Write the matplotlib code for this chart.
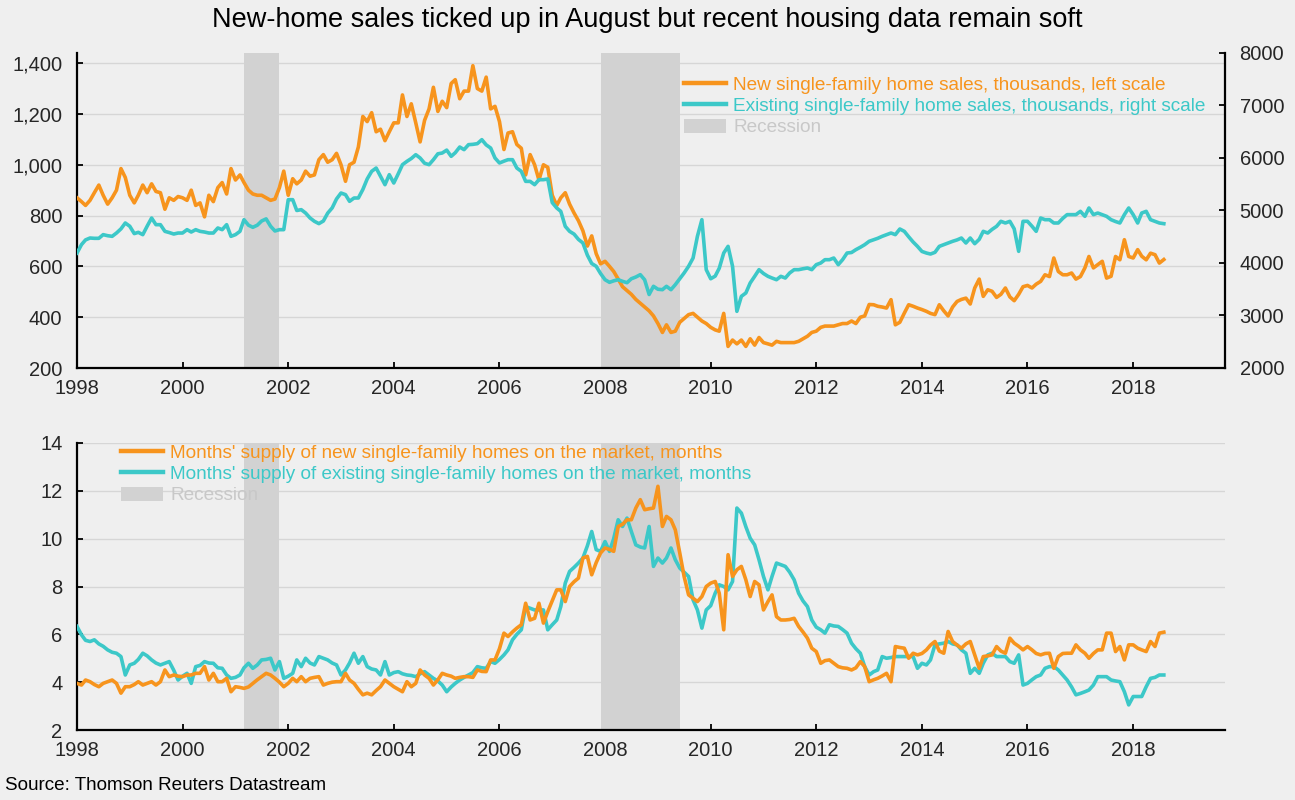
import numpy as np
import pandas as pd
import matplotlib
matplotlib.use("Agg")
import matplotlib.pyplot as plt
import matplotlib.dates as mdates
from matplotlib.lines import Line2D
from matplotlib.patches import Patch
from matplotlib.ticker import FuncFormatter, MultipleLocator

plt.rcParams['font.family'] = ['Liberation Sans', 'DejaVu Sans']

# ---------------- DATA (monthly, Jan 1998 - Aug 2018) ----------------
start_month = "1998-01-01"

new_sales = [
    870, 855, 840, 860, 890, 920, 880, 845, 870, 900, 985, 950,          # 1998
    880, 850, 880, 920, 890, 925, 895, 890, 825, 870, 860, 875,          # 1999
    870, 860, 900, 840, 850, 795, 880, 855, 910, 930, 885, 985,          # 2000
    940, 960, 930, 900, 885, 880, 880, 870, 860, 865, 910, 975,          # 2001
    880, 945, 925, 940, 975, 955, 960, 1020, 1040, 1010, 1020, 1045,     # 2002
    1000, 935, 1000, 1010, 1070, 1190, 1170, 1205, 1130, 1140, 1095, 1130,  # 2003
    1165, 1165, 1275, 1190, 1240, 1165, 1090, 1175, 1220, 1305, 1210, 1250,  # 2004
    1225, 1320, 1335, 1260, 1290, 1290, 1390, 1300, 1290, 1345, 1220, 1230,  # 2005
    1170, 1060, 1125, 1130, 1080, 1065, 960, 1040, 1000, 940, 1000, 990,     # 2006
    880, 840, 870, 890, 845, 810, 780, 740, 680, 720, 650, 610,          # 2007
    620, 600, 580, 550, 520, 505, 490, 470, 455, 440, 425, 405,          # 2008
    375, 340, 370, 340, 345, 380, 395, 410, 415, 400, 385, 375,          # 2009
    360, 350, 345, 415, 285, 310, 295, 310, 285, 315, 290, 320,          # 2010
    300, 295, 290, 305, 300, 300, 300, 300, 305, 315, 325, 340,          # 2011
    345, 360, 365, 365, 365, 370, 375, 375, 385, 375, 400, 405,          # 2012
    450, 449, 443, 440, 436, 469, 370, 380, 416, 449, 443, 436,          # 2013
    430, 423, 415, 410, 449, 425, 405, 440, 462, 470, 475, 452,          # 2014
    515, 550, 482, 508, 502, 478, 490, 515, 480, 465, 490, 520,          # 2015
    525, 515, 530, 541, 567, 560, 633, 580, 567, 567, 574, 550,          # 2016
    560, 594, 639, 594, 607, 620, 554, 561, 639, 626, 705, 639,          # 2017
    633, 666, 640, 626, 652, 646, 613, 627,                              # 2018
]

existing_sales = [
    4190, 4350, 4440, 4476, 4470, 4470, 4540, 4520, 4508, 4571, 4650, 4762,  # 1998
    4700, 4560, 4584, 4540, 4700, 4857, 4730, 4730, 4603, 4580, 4552, 4571,  # 1999
    4571, 4635, 4590, 4635, 4603, 4590, 4571, 4571, 4667, 4635, 4730, 4508,  # 2000
    4540, 4603, 4825, 4720, 4680, 4720, 4800, 4840, 4700, 4610, 4635, 4635,  # 2001
    5206, 5206, 5000, 5016, 4952, 4857, 4794, 4750, 4800, 4950, 5050, 5220,  # 2002
    5333, 5302, 5175, 5238, 5238, 5400, 5600, 5746, 5809, 5651, 5492, 5682,  # 2003
    5524, 5700, 5873, 5936, 5990, 6063, 6000, 5900, 5873, 5968, 6080, 6095,  # 2004
    6150, 6032, 6100, 6209, 6159, 6254, 6260, 6273, 6349, 6250, 6190, 6000,  # 2005
    5905, 5940, 5968, 5968, 5809, 5746, 5555, 5555, 5492, 5587, 5587, 5600,  # 2006
    5150, 5048, 4984, 4698, 4603, 4550, 4450, 4381, 4150, 3990, 3937, 3800,  # 2007
    3682, 3632, 3660, 3682, 3651, 3625, 3700, 3733, 3778, 3680, 3400, 3556,  # 2008
    3500, 3492, 3556, 3492, 3587, 3700, 3810, 3937, 4095, 4508, 4825, 3873,  # 2009
    3700, 3750, 3900, 4190, 4317, 3937, 3079, 3365, 3429, 3619, 3746, 3873,  # 2010
    3800, 3746, 3714, 3682, 3746, 3714, 3810, 3873, 3873, 3890, 3905, 3873,  # 2011
    3968, 4000, 4063, 4063, 4095, 3968, 4063, 4190, 4200, 4254, 4300, 4349,  # 2012
    4413, 4444, 4470, 4508, 4540, 4571, 4540, 4648, 4603, 4500, 4400, 4317,  # 2013
    4220, 4190, 4171, 4203, 4317, 4350, 4381, 4413, 4440, 4476, 4381, 4476,  # 2014
    4368, 4450, 4603, 4571, 4640, 4698, 4794, 4762, 4794, 4650, 4222, 4794,  # 2015
    4794, 4700, 4603, 4857, 4825, 4825, 4762, 4762, 4850, 4921, 4921, 4921,  # 2016
    4984, 4889, 5048, 4921, 4952, 4920, 4889, 4825, 4790, 4762, 4921, 5048,  # 2017
    4921, 4762, 4952, 4984, 4825, 4794, 4762, 4749,                          # 2018
]

supply_new = [
    3.95, 3.88, 4.09, 4.02, 3.90, 3.81, 3.95, 4.02, 4.09, 3.95, 3.54, 3.81,  # 1998
    3.81, 3.90, 4.02, 3.88, 3.95, 4.02, 3.88, 4.02, 4.51, 4.23, 4.30, 4.25,  # 1999
    4.23, 4.30, 4.30, 4.37, 4.37, 4.65, 4.09, 4.37, 4.02, 4.02, 4.16, 3.60,  # 2000
    3.81, 3.78, 3.74, 3.80, 3.95, 4.10, 4.23, 4.37, 4.30, 4.16, 4.00, 3.81,  # 2001
    3.95, 4.16, 4.02, 4.23, 4.02, 4.16, 4.20, 4.23, 3.88, 3.95, 4.00, 4.02,  # 2002
    4.02, 4.37, 4.09, 3.95, 3.70, 3.47, 3.54, 3.47, 3.65, 3.81, 4.09, 3.95,  # 2003
    3.81, 3.70, 3.60, 4.02, 3.81, 3.95, 4.51, 4.30, 4.16, 3.88, 4.10, 4.37,  # 2004
    4.30, 4.25, 4.16, 4.20, 4.23, 4.23, 4.20, 4.51, 4.45, 4.44, 4.93, 4.93,  # 2005
    5.40, 6.05, 5.91, 6.10, 6.26, 6.40, 7.30, 6.60, 6.67, 7.30, 6.47, 6.95,  # 2006
    7.40, 7.86, 7.86, 7.37, 8.00, 8.20, 8.35, 9.19, 9.26, 8.49, 9.00, 9.40,  # 2007
    9.61, 9.55, 9.47, 10.51, 10.60, 10.79, 10.79, 11.28, 11.63, 11.21, 11.25, 11.28,  # 2008
    12.19, 10.51, 10.93, 10.79, 10.37, 9.40, 8.42, 7.65, 7.51, 7.37, 7.58, 8.00,  # 2009
    8.14, 8.21, 7.72, 6.19, 9.33, 8.42, 8.70, 8.84, 8.28, 7.58, 8.21, 8.07,  # 2010
    7.02, 7.37, 7.65, 6.74, 6.60, 6.60, 6.62, 6.67, 6.33, 6.10, 5.84, 5.42,  # 2011
    5.28, 4.79, 4.90, 4.93, 4.79, 4.65, 4.60, 4.58, 4.51, 4.60, 4.86, 4.65,  # 2012
    4.02, 4.10, 4.16, 4.26, 4.37, 4.02, 5.49, 5.45, 5.42, 5.00, 5.21, 5.14,  # 2013
    5.20, 5.35, 5.55, 5.70, 5.30, 5.21, 6.12, 5.70, 5.55, 5.42, 5.60, 5.70,  # 2014
    5.14, 4.58, 5.07, 5.10, 5.14, 5.49, 5.30, 5.21, 5.84, 5.63, 5.50, 5.35,  # 2015
    5.49, 5.35, 5.20, 5.14, 5.20, 5.21, 4.58, 5.07, 5.20, 5.21, 5.21, 5.56,  # 2016
    5.35, 5.21, 5.00, 5.20, 5.35, 5.35, 6.05, 6.05, 5.28, 5.49, 4.93, 5.56,  # 2017
    5.56, 5.42, 5.35, 5.28, 5.70, 5.49, 6.05, 6.09,                          # 2018
]

supply_existing = [
    6.33, 5.98, 5.75, 5.70, 5.77, 5.60, 5.50, 5.35, 5.25, 5.21, 5.07, 4.30,  # 1998
    4.72, 4.79, 4.95, 5.21, 5.10, 4.93, 4.80, 4.72, 4.79, 4.86, 4.50, 4.09,  # 1999
    4.25, 4.37, 3.95, 4.65, 4.70, 4.86, 4.80, 4.79, 4.60, 4.58, 4.30, 4.16,  # 2000
    4.20, 4.30, 4.60, 4.79, 4.58, 4.72, 4.93, 4.95, 5.00, 4.51, 4.86, 4.16,  # 2001
    4.25, 4.37, 4.93, 4.65, 5.00, 4.80, 4.72, 5.07, 5.00, 4.93, 4.80, 4.72,  # 2002
    4.30, 4.51, 4.80, 5.21, 4.79, 5.07, 4.65, 4.55, 4.51, 4.30, 4.86, 4.30,  # 2003
    4.40, 4.44, 4.35, 4.30, 4.28, 4.23, 4.35, 4.44, 4.30, 4.16, 4.05, 3.88,  # 2004
    3.60, 3.80, 3.95, 4.09, 4.20, 4.30, 4.40, 4.65, 4.60, 4.58, 4.86, 4.79,  # 2005
    4.95, 5.14, 5.35, 5.77, 6.00, 6.19, 7.16, 7.09, 7.02, 7.02, 7.02, 6.19,  # 2006
    6.40, 6.60, 7.16, 8.14, 8.63, 8.80, 8.98, 9.19, 9.70, 10.30, 9.54, 9.47,  # 2007
    9.88, 9.47, 10.00, 10.79, 10.51, 10.86, 10.30, 9.74, 9.65, 9.61, 10.51, 8.84,  # 2008
    9.19, 8.98, 9.19, 9.61, 9.12, 8.77, 8.60, 8.42, 7.44, 7.02, 6.26, 7.02,  # 2009
    7.20, 7.72, 8.07, 8.00, 7.86, 8.21, 11.28, 11.07, 10.50, 10.02, 9.74, 9.12,  # 2010
    8.42, 7.86, 8.42, 8.98, 8.91, 8.84, 8.60, 8.28, 7.72, 7.40, 7.16, 6.60,  # 2011
    6.30, 6.19, 6.05, 6.40, 6.35, 6.33, 6.20, 6.05, 5.63, 5.40, 5.21, 4.65,  # 2012
    4.30, 4.44, 4.51, 5.07, 5.00, 5.03, 5.07, 5.07, 5.07, 5.07, 5.07, 4.58,  # 2013
    4.79, 4.72, 4.93, 5.56, 5.60, 5.63, 5.70, 5.60, 5.56, 5.35, 5.21, 4.37,  # 2014
    4.58, 4.37, 4.79, 5.14, 5.21, 5.07, 5.07, 5.07, 4.86, 4.79, 5.14, 3.88,  # 2015
    3.95, 4.10, 4.23, 4.30, 4.58, 4.65, 4.65, 4.51, 4.30, 4.09, 3.80, 3.47,  # 2016
    3.53, 3.60, 3.67, 3.88, 4.23, 4.23, 4.23, 4.09, 4.05, 4.02, 3.60, 3.05,  # 2017
    3.40, 3.40, 3.40, 3.81, 4.16, 4.20, 4.30, 4.30,                          # 2018
]

recessions = [("2001-03-01", "2001-11-01"), ("2007-12-01", "2009-06-01")]

title = "New-home sales ticked up in August but recent housing data remain soft"
label_new_sales = "New single-family home sales, thousands, left scale"
label_existing_sales = "Existing single-family home sales, thousands, right scale"
label_supply_new = "Months' supply of new single-family homes on the market, months"
label_supply_existing = "Months' supply of existing single-family homes on the market, months"
label_recession = "Recession"
source = "Source: Thomson Reuters Datastream"

# ---------------- STYLE ----------------
ORANGE = "#F7941D"
CYAN = "#3CC8C8"
REC = "#D2D2D2"
BG = "#EFEFEF"
GRID = "#D6D6D6"
TXT = "#262626"
LW = 2.6
TICK_FS = 14.5
LEG_FS = 13.7

dates = pd.date_range(start_month, periods=len(new_sales), freq="MS")

fig = plt.figure(figsize=(12.95, 8.0), dpi=100, facecolor=BG)
ax1 = fig.add_axes([77/1295, 1-368/800, (1225-77)/1295, (368-53)/800])
ax2 = fig.add_axes([77/1295, 1-730/800, (1225-77)/1295, (730-443)/800])

xmin = pd.Timestamp("1998-01-01")
xmax = pd.Timestamp("2019-09-28")


def style_axis(ax):
    ax.set_facecolor(BG)
    for s in ["top", "right"]:
        ax.spines[s].set_visible(False)
    for s in ["left", "bottom"]:
        ax.spines[s].set_linewidth(1.6)
        ax.spines[s].set_color("black")
    ax.tick_params(axis="both", direction="in", length=4.5, width=1.3,
                   labelsize=TICK_FS, labelcolor=TXT, color="black")
    ax.tick_params(axis="y", pad=10.5)
    ax.tick_params(axis="x", pad=8)
    ax.xaxis.set_major_locator(mdates.YearLocator(2))
    ax.xaxis.set_major_formatter(mdates.DateFormatter("%Y"))
    ax.set_xlim(xmin, xmax)
    ax.grid(axis="y", color=GRID, linewidth=1.0)
    ax.set_axisbelow(True)
    for a, b in recessions:
        ax.axvspan(pd.Timestamp(a), pd.Timestamp(b), color=REC, lw=0, zorder=1)


def add_legend(ax, labels, anchor):
    handles = [Line2D([], [], color=ORANGE, lw=3.2),
               Line2D([], [], color=CYAN, lw=3.2),
               Patch(facecolor=REC, edgecolor="none")]
    return ax.legend(handles, labels, loc="upper left", bbox_to_anchor=anchor,
                     frameon=False, fontsize=LEG_FS, handlelength=2.2, handleheight=0.75,
                     handletextpad=0.4, labelspacing=0.2, borderaxespad=0, borderpad=0,
                     labelcolor=[ORANGE, CYAN, "#C8C8C8"])


# ---- top panel ----
style_axis(ax1)
ax1.set_ylim(200, 1440)
ax1.set_yticks([200, 400, 600, 800, 1000, 1200, 1400])
ax1.yaxis.set_major_formatter(FuncFormatter(lambda v, p: f"{int(v):,}"))
ax1.plot(dates, new_sales, color=ORANGE, lw=LW, zorder=4, solid_joinstyle="round")

ax1r = ax1.twinx()
ax1r.set_ylim(2000, 8000)
ax1r.set_yticks([2000, 3000, 4000, 5000, 6000, 7000, 8000])
for s in ["top", "left", "bottom"]:
    ax1r.spines[s].set_visible(False)
ax1r.spines["right"].set_linewidth(1.6)
ax1r.tick_params(axis="y", direction="in", length=4.5, width=1.3,
                 labelsize=TICK_FS, labelcolor=TXT, pad=10.5)
ax1r.plot(dates, existing_sales, color=CYAN, lw=LW, zorder=3, solid_joinstyle="round")
ax1r.set_xlim(xmin, xmax)

add_legend(ax1r, [label_new_sales, label_existing_sales, label_recession],
           ((684-77)/1148, 1-(76-53)/315))

# ---- bottom panel ----
style_axis(ax2)
ax2.set_ylim(2, 14)
ax2.set_yticks([2, 4, 6, 8, 10, 12, 14])
ax2.plot(dates, supply_existing, color=CYAN, lw=LW, zorder=3, solid_joinstyle="round")
ax2.plot(dates, supply_new, color=ORANGE, lw=LW, zorder=4, solid_joinstyle="round")

add_legend(ax2, [label_supply_new, label_supply_existing, label_recession],
           ((121-77)/1148, 1-(444-443)/287))

fig.text(0.5, 1-20/800, title, ha="center", va="center", fontsize=19.5, color="black")
fig.text(5/1295, 1-785/800, source, ha="left", va="center", fontsize=13.6, color="black")

fig.savefig("out.png", dpi=100, facecolor=BG)
